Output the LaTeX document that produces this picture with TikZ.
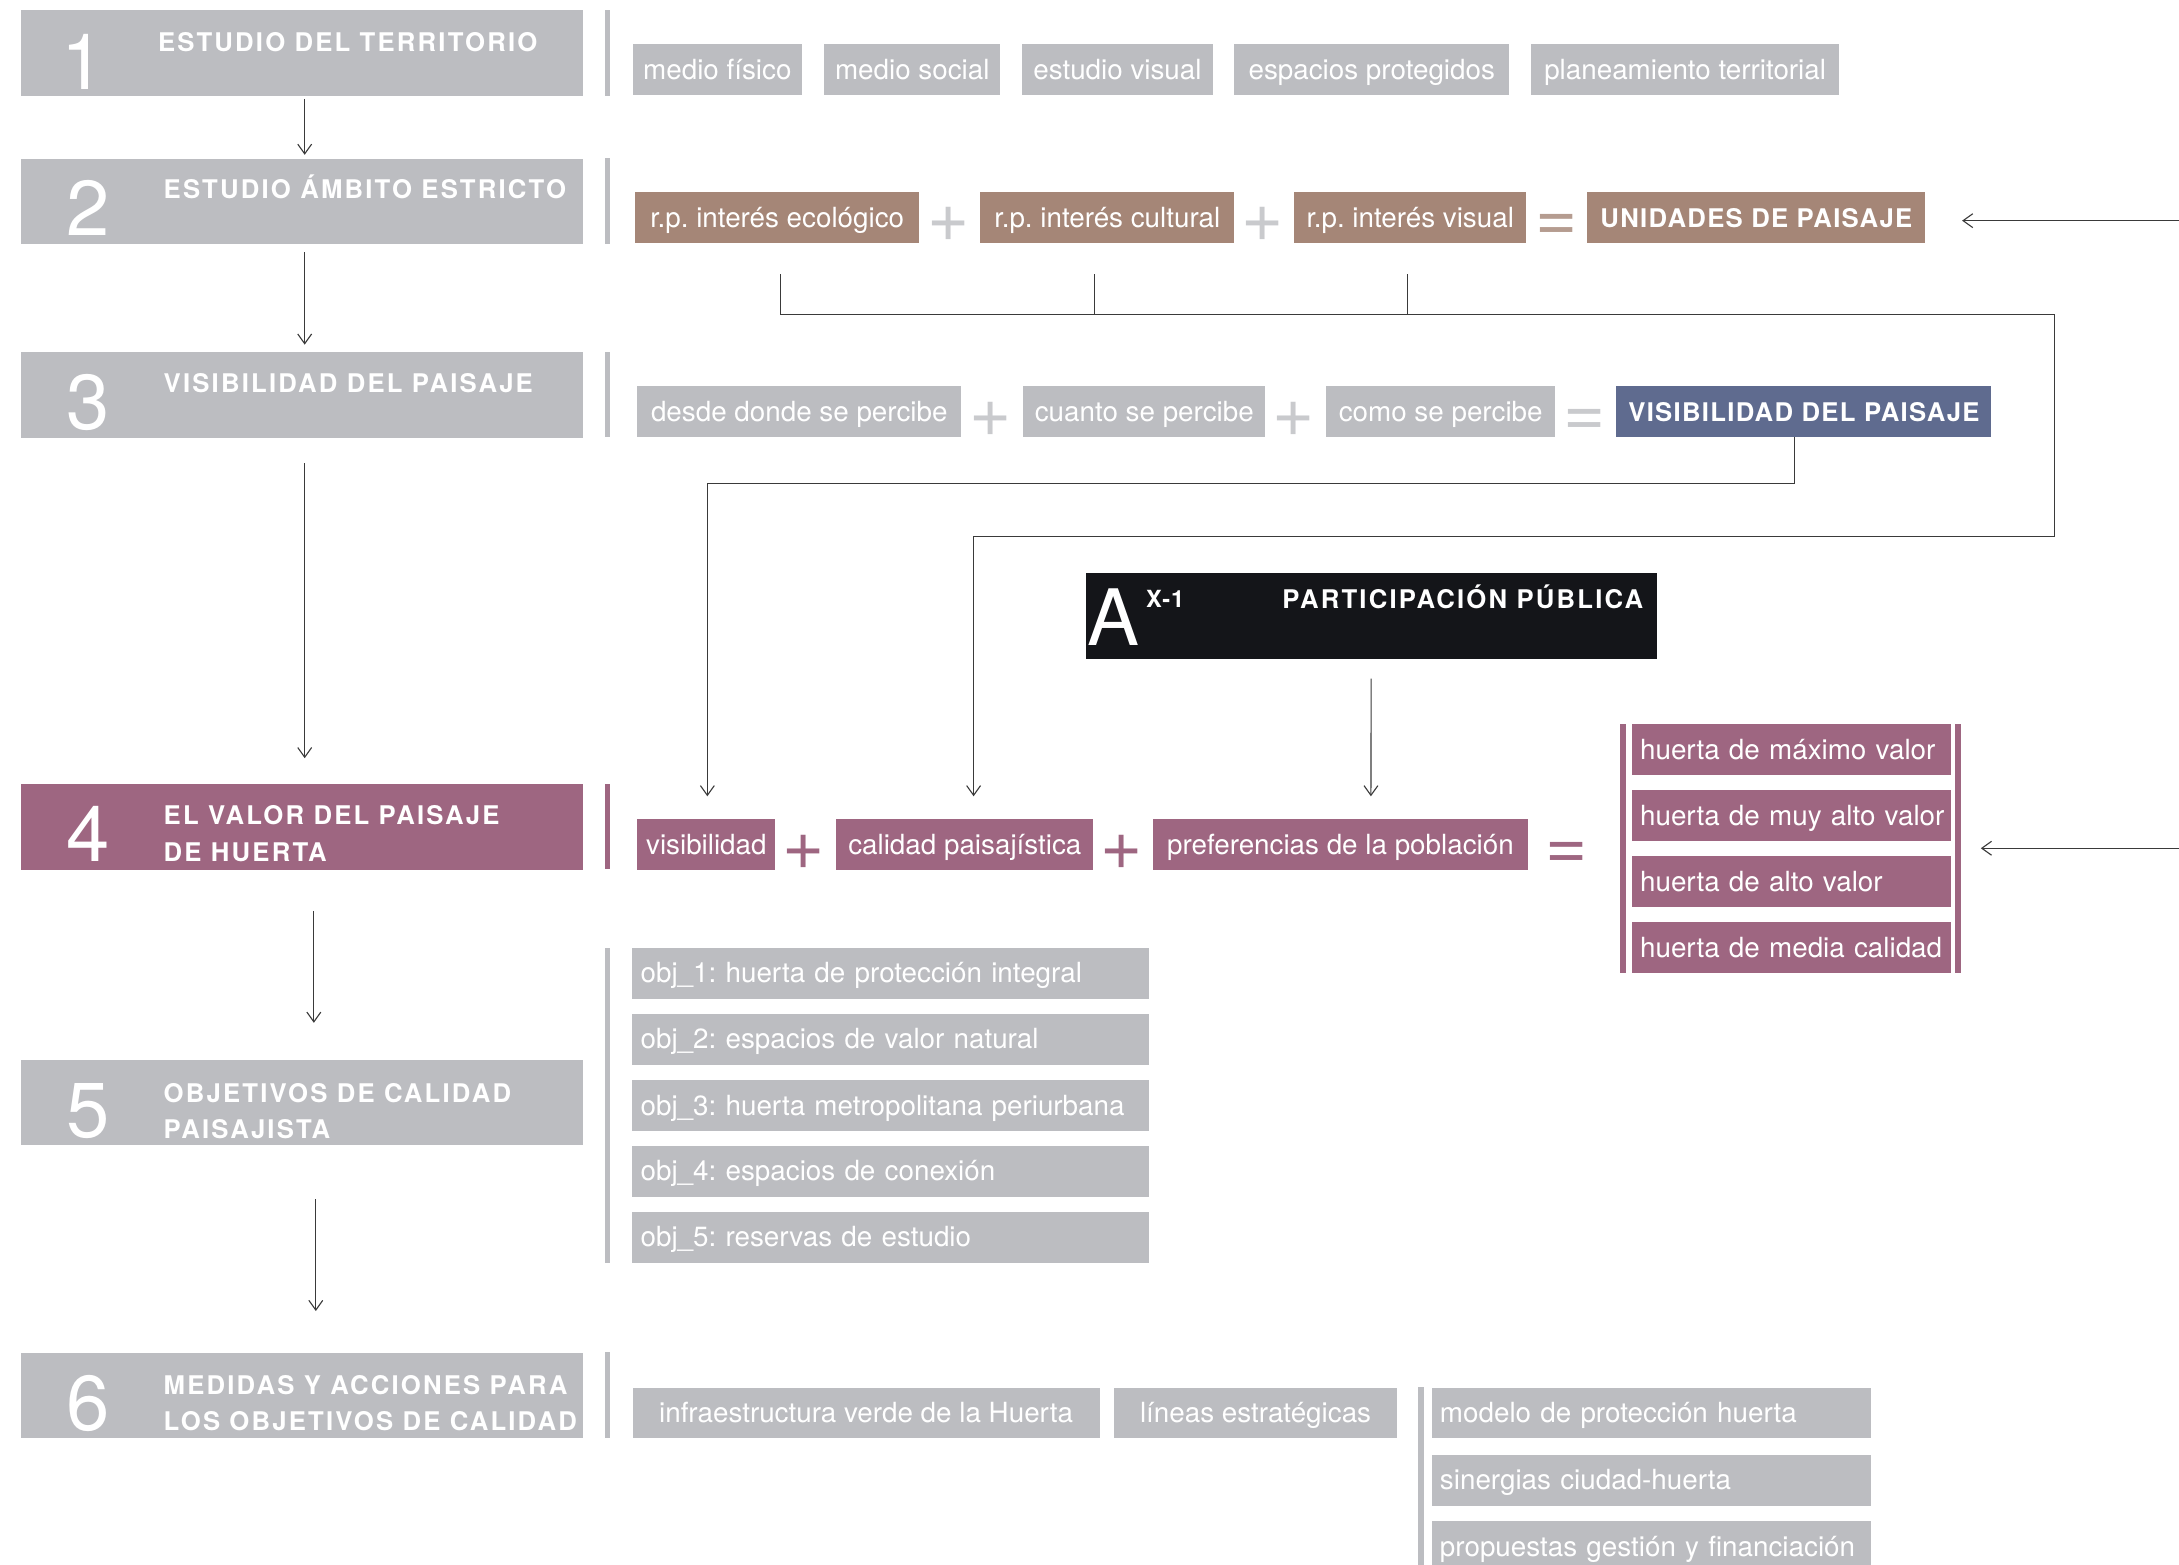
\documentclass[tikz,border=0pt]{standalone}
\usepackage{fontspec}
\setmainfont{TeX Gyre Heros}
\usetikzlibrary{arrows.meta}

\definecolor{hgray}{HTML}{BCBDC1}
\definecolor{hopgray}{HTML}{C9CACD}
\definecolor{hbrown}{HTML}{A58677}
\definecolor{hopbrown}{HTML}{B59C90}
\definecolor{hpurple}{HTML}{9E6681}
\definecolor{hblue}{HTML}{5F6B8F}
\definecolor{hblack}{HTML}{141519}
\definecolor{hline}{HTML}{3A3A3A}

\newcommand{\chipfont}{\fontsize{20}{24}\selectfont\frenchspacing}
\newcommand{\headfont}{\fontsize{18.5}{26}\selectfont\bfseries\addfontfeatures{LetterSpace=8.5}}
\newcommand{\numfont}{\fontsize{56}{56}\selectfont}
\newcommand{\opfont}{\fontsize{52}{52}\selectfont}
\newcommand{\supfont}{\fontsize{17}{17}\selectfont\bfseries\addfontfeatures{LetterSpace=4}}

\tikzset{
  stepbox/.style={anchor=north west, fill=#1, minimum width=404.5pt, minimum height=61.5pt, inner sep=0pt},
  stepnum/.style={anchor=base west, inner sep=0pt, text=white, font=\numfont},
  steptitle/.style={anchor=base west, inner sep=0pt, text=white, font=\headfont, align=left},
  chip/.style={anchor=north west, fill=#1, inner xsep=6pt, inner ysep=0pt, minimum height=36.5pt,
    text height=18.5pt, text depth=5pt, text=white, font=\chipfont},
  listchip/.style={chip=#1, inner xsep=0pt, align=left, execute at begin node={\hspace*{6pt}}},
  op/.style={anchor=base, inner sep=0pt, font=\opfont, text=#1},
  flow/.style={draw=hline, line width=0.8pt, arrows={-Straight Barb[length=7pt,width=10pt]}},
  link/.style={draw=hline, line width=0.8pt},
}

\begin{document}
\begin{tikzpicture}[x=1pt, y=-1pt]
\useasboundingbox (0,0) rectangle (1568,1126);

\node[stepbox=hgray]   (s1) at (15.1,7.2) {};
\node[stepbox=hgray]   (s2) at (15.1,113.9) {};
\node[stepbox=hgray]   (s3) at (15.1,253.3) {};
\node[stepbox=hpurple] (s4) at (15.1,564.1) {};
\node[stepbox=hgray]   (s5) at (15.1,762.5) {};
\node[stepbox=hgray]   (s6) at (15.1,973.2) {};

\node[stepnum] (n1) at ([xshift=29pt,yshift=5pt]s1.south west) {1};
\node[stepnum] (n2) at ([xshift=32.2pt,yshift=6pt]s2.south west) {2};
\node[stepnum] (n3) at ([xshift=32.2pt,yshift=6pt]s3.south west) {3};
\node[stepnum] (n4) at ([xshift=32.2pt,yshift=6pt]s4.south west) {4};
\node[stepnum] (n5) at ([xshift=32.2pt,yshift=6pt]s5.south west) {5};
\node[stepnum] (n6) at ([xshift=32.2pt,yshift=6pt]s6.south west) {6};

\node[steptitle] (t1) at ([xshift=98.4pt,yshift=-30pt]s1.north west) {ESTUDIO DEL TERRITORIO};
\node[steptitle] (t2) at ([xshift=102.5pt,yshift=-29pt]s2.north west) {ESTUDIO ÁMBITO ESTRICTO};
\node[steptitle] (t3) at ([xshift=102.5pt,yshift=-29.5pt]s3.north west) {VISIBILIDAD DEL PAISAJE};
\node[steptitle] (t4) at ([xshift=102.5pt,yshift=-55.5pt]s4.north west) {EL VALOR DEL PAISAJE\\DE HUERTA};
\node[steptitle] (t5) at ([xshift=102.5pt,yshift=-56.5pt]s5.north west) {OBJETIVOS DE CALIDAD\\PAISAJISTA};
\node[steptitle] (t6) at ([xshift=102.5pt,yshift=-56pt]s6.north west) {MEDIDAS Y ACCIONES PARA\\LOS OBJETIVOS DE CALIDAD};

\fill[hgray]   (435.3,7.2) rectangle (439,68.8);
\fill[hgray]   (435.3,113.9) rectangle (439,175.3);
\fill[hgray]   (435.3,253.3) rectangle (439,314.7);
\fill[hpurple] (435.3,564.1) rectangle (439,625.5);
\fill[hgray]   (435.3,682.1) rectangle (439,908.6);
\fill[hgray]   (435.3,973.2) rectangle (439,1034.8);

\node[chip=hgray, minimum width=122pt]   (mf) at (455,31.7) {medio físico};
\node[chip=hgray, minimum width=126.5pt] (ms) at (593,31.7) {medio social};
\node[chip=hgray, minimum width=136.8pt] (ev) at (735.5,31.7) {estudio visual};
\node[chip=hgray, minimum width=197.6pt] (ep) at (888.1,31.7) {espacios protegidos};
\node[chip=hgray, minimum width=221.8pt] (pl) at (1101.5,31.7) {planeamiento territorial};

\node[chip=hbrown, minimum width=204.4pt] (eco) at (456.9,138.2) {r.p. interés ecológico};
\node[chip=hbrown, minimum width=182.9pt] (cul) at (705.2,138.2) {r.p. interés cultural};
\node[chip=hbrown, minimum width=166.8pt] (vis) at (931.2,138.2) {r.p. interés visual};
\node[chip=hbrown, minimum width=243.1pt, font=\headfont\addfontfeatures{LetterSpace=5}] (unid) at (1142.1,138.2) {UNIDADES DE PAISAJE};
\node[op=hopgray]  (o1) at (682.3,174) {+};
\node[op=hopgray]  (o2) at (908.4,174) {+};
\node[op=hopbrown] (o3) at (1120,174) {=};

\node[chip=hgray, minimum width=233.1pt] (dd) at (458.4,277.8) {desde donde se percibe};
\node[chip=hgray, minimum width=174.4pt] (cu) at (736,277.8) {cuanto se percibe};
\node[chip=hgray, minimum width=165pt]   (co) at (954,277.8) {como se percibe};
\node[chip=hblue, minimum width=269.8pt, font=\headfont\addfontfeatures{LetterSpace=5}] (vp) at (1163,277.8) {VISIBILIDAD DEL PAISAJE};
\node[op=hopgray] (o4) at (713,314.2) {+};
\node[op=hopgray] (o5) at (931,314.2) {+};
\node[op=hopgray] (o6) at (1140,314.2) {=};

\node[anchor=north west, fill=hblack, minimum width=411pt, minimum height=62pt, inner sep=0pt] (pp) at (781,412) {};
\node[stepnum] (pa) at ([xshift=1.5pt,yshift=10pt]pp.south west) {A};
\node[anchor=base west, inner sep=0pt, text=white, font=\supfont] (px) at ([xshift=43.6pt,yshift=-25pt]pp.north west) {X-1};
\node[steptitle] (ptit) at ([xshift=141.6pt,yshift=-25.6pt]pp.north west) {PARTICIPACIÓN PÚBLICA};

\node[chip=hpurple, minimum width=99.4pt]  (vi) at (458.4,589.5) {visibilidad};
\node[chip=hpurple, minimum width=184.8pt] (ca) at (601.7,589.5) {calidad paisajística};
\node[chip=hpurple, minimum width=269.3pt] (pr) at (829.7,589.5) {preferencias de la población};
\node[op=hpurple] (o7) at (578.5,625.8) {+};
\node[op=hpurple] (o8) at (807.4,625.8) {+};
\node[op=hpurple] (o9) at (1127.5,626) {=};

\fill[hpurple] (1165.7,521) rectangle (1169.7,700);
\fill[hpurple] (1407,521) rectangle (1411,700);
\node[listchip=hpurple, text width=230pt] (h1) at (1174,521) {huerta de máximo valor};
\node[listchip=hpurple, text width=230pt] (h2) at (1174,568.5) {huerta de muy alto valor};
\node[listchip=hpurple, text width=230pt] (h3) at (1174,616) {huerta de alto valor};
\node[listchip=hpurple, text width=230pt] (h4) at (1174,663.5) {huerta de media calidad};

\node[listchip=hgray, text width=371.5pt] (ob1) at (454.8,682.1) {obj\_1: huerta de protección integral};
\node[listchip=hgray, text width=371.5pt] (ob2) at (454.8,729.6) {obj\_2: espacios de valor natural};
\node[listchip=hgray, text width=371.5pt] (ob3) at (454.8,777.2) {obj\_3: huerta metropolitana periurbana};
\node[listchip=hgray, text width=371.5pt] (ob4) at (454.8,824.6) {obj\_4: espacios de conexión};
\node[listchip=hgray, text width=371.5pt] (ob5) at (454.8,872.1) {obj\_5: reservas de estudio};

\node[chip=hgray, minimum width=336pt]   (iv) at (455,998.3) {infraestructura verde de la Huerta};
\node[chip=hgray, minimum width=203.4pt] (le) at (801.6,998.3) {líneas estratégicas};
\fill[hgray] (1020.6,998.3) rectangle (1024.4,1130);
\node[listchip=hgray, text width=316pt] (m1) at (1030,998.3) {modelo de protección huerta};
\node[listchip=hgray, text width=316pt] (m2) at (1030,1046.8) {sinergias ciudad-huerta};
\node[listchip=hgray, text width=316pt] (m3) at (1030,1094.5) {propuestas gestión y financiación};

\draw[flow, shorten <=2pt, shorten >=2.5pt] ([xshift=1.7pt]s1.south) -- ([xshift=1.7pt]s2.north);
\draw[flow, shorten <=5.7pt, shorten >=5.3pt] ([xshift=1.7pt]s2.south) -- ([xshift=1.7pt]s3.north);
\draw[flow, shorten <=18.3pt, shorten >=18.5pt] ([xshift=1.7pt]s3.south) -- ([xshift=1.7pt]s4.north);
\draw[flow, shorten <=29.5pt, shorten >=26.5pt] ([xshift=8.3pt]s4.south) -- ([xshift=8.3pt]s5.north);
\draw[flow, shorten <=38.5pt, shorten >=29.8pt] ([xshift=9.7pt]s5.south) -- ([xshift=9.7pt]s6.north);

\coordinate (ea) at (1568,158.8);
\draw[flow, shorten >=26.3pt] (ea) -- (ea -| unid.east);
\coordinate (eb) at (1568,610.4);
\draw[flow, shorten >=21pt] (eb) -- (eb -| h2.east);

\coordinate (b1) at (561.5,197.5);
\coordinate (b2) at (787.5,197.5);
\coordinate (b3) at (1013,197.5);
\coordinate (jr) at (1478.4,226);
\coordinate (qc) at (700.6,573);
\draw[link] (b1) |- (jr);
\draw[link] (b2) -- (b2 |- jr);
\draw[link] (b3) -- (b3 |- jr);
\draw[flow] (jr) -- ++(0,160) -| (qc);

\coordinate (qv) at (509,573);
\draw[flow] ([xshift=-6.9pt]vp.south) -- ++(0,33.5) -| (qv);

\coordinate (qp) at (986.5,573);
\draw[flow, shorten <=14pt] (pp.south) -- (qp);
\end{tikzpicture}
\end{document}
